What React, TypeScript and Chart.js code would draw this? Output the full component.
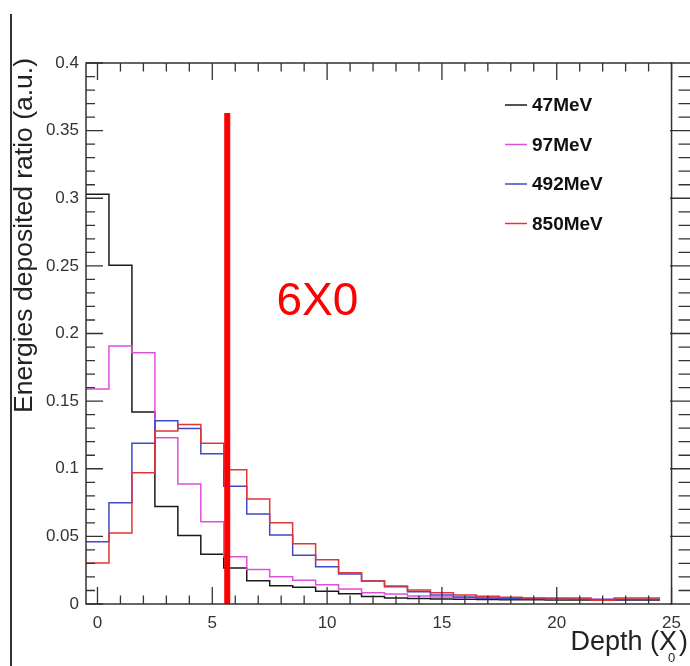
import { useEffect, useRef } from "react";
import { Chart, registerables } from "chart.js";

Chart.register(...registerables);

// ---- data ----
const binCenters = [0, 1, 2, 3, 4, 5, 6, 7, 8, 9, 10, 11, 12, 13, 14, 15, 16, 17, 18, 19, 20, 21, 22, 23, 24];
const seriesLabels = ["47MeV", "97MeV", "492MeV", "850MeV"];
const values47 = [0.303, 0.2505, 0.142, 0.072, 0.0507, 0.0367, 0.0266, 0.0172, 0.0135, 0.0123, 0.0094, 0.0076, 0.0055, 0.0045, 0.004, 0.0037, 0.0035, 0.0033, 0.0032, 0.0031, 0.003, 0.003, 0.003, 0.003, 0.003];
const values97 = [0.159, 0.1907, 0.1857, 0.123, 0.0887, 0.0608, 0.035, 0.0256, 0.0202, 0.0175, 0.0143, 0.011, 0.0084, 0.0074, 0.006, 0.0052, 0.0046, 0.0042, 0.004, 0.004, 0.0038, 0.0036, 0.0035, 0.0035, 0.0035];
const values492 = [0.046, 0.0749, 0.1188, 0.1355, 0.1298, 0.111, 0.087, 0.0665, 0.051, 0.0361, 0.0276, 0.0222, 0.017, 0.0128, 0.0091, 0.0067, 0.0052, 0.0045, 0.0042, 0.004, 0.0038, 0.0036, 0.0034, 0.0034, 0.0034];
const values850 = [0.0303, 0.0525, 0.097, 0.128, 0.1328, 0.1188, 0.0993, 0.0777, 0.06, 0.0446, 0.0327, 0.0231, 0.017, 0.0133, 0.0103, 0.0084, 0.0067, 0.0058, 0.005, 0.0045, 0.0045, 0.0045, 0.0028, 0.0045, 0.0045];
const seriesColors = ["#1a1a1a", "#dd4fdd", "#3f49c6", "#e03636"];

const xTickValues = [0, 5, 10, 15, 20, 25];
const yTickValues = [0, 0.05, 0.1, 0.15, 0.2, 0.25, 0.3, 0.35, 0.4];

const markerX = 5.65;
const markerTop = 0.363;
const annotationText = "6X0";
const annotationX = 9.58;
const annotationY = 0.2227;

const yTitle = "Energies deposited ratio (a.u.)";
const xTitleMain = "Depth (X";
const xTitleSub = "0";
const xTitleEnd = ")";

const FONT = "'Liberation Sans', Arial, Helvetica, sans-serif";

function histPoints(values: number[]) {
  const pts = binCenters.map((c, i) => ({ x: c - 0.5, y: values[i] }));
  const last = binCenters.length - 1;
  pts.push({ x: binCenters[last] + 0.5, y: values[last] });
  return pts;
}

const decorPlugin = {
  id: "decor",
  afterDraw(chart: any) {
    const ctx = chart.ctx;
    const { left, right, top, bottom } = chart.chartArea;
    const xs = chart.scales.x;
    const ys = chart.scales.y;
    ctx.save();
    // frame
    ctx.strokeStyle = "#333";
    ctx.lineWidth = 1.5;
    ctx.strokeRect(left, top, right - left, bottom - top);
    // x ticks (bottom/top)
    ctx.lineWidth = 1.3;
    for (let v = 0; v <= 25; v++) {
      const px = xs.getPixelForValue(v);
      const len = v % 5 === 0 ? 17 : 8.6;
      ctx.beginPath();
      ctx.moveTo(px, bottom);
      ctx.lineTo(px, bottom - len);
      ctx.moveTo(px, top);
      ctx.lineTo(px, top + len);
      ctx.stroke();
    }
    // y ticks (left / right)
    for (let k = 0; k <= 40; k++) {
      const py = ys.getPixelForValue(k * 0.01);
      const major = k % 5 === 0;
      ctx.beginPath();
      ctx.moveTo(left, py);
      ctx.lineTo(left + (major ? 17 : 9), py);
      ctx.moveTo(chart.width, py);
      ctx.lineTo(major ? 670 : 678.5, py);
      ctx.stroke();
    }
    // annotation text
    ctx.fillStyle = "#ff0000";
    ctx.font = `46px ${FONT}`;
    ctx.textAlign = "center";
    ctx.textBaseline = "middle";
    ctx.fillText(annotationText, xs.getPixelForValue(annotationX), ys.getPixelForValue(annotationY));
    // legend
    ctx.font = `bold 19px ${FONT}`;
    ctx.textAlign = "left";
    ctx.textBaseline = "middle";
    seriesLabels.forEach((lab, i) => {
      const y = 105 + i * 39.5;
      ctx.strokeStyle = seriesColors[i];
      ctx.lineWidth = 1.5;
      ctx.beginPath();
      ctx.moveTo(505, y);
      ctx.lineTo(527, y);
      ctx.stroke();
      ctx.fillStyle = "#111";
      ctx.fillText(lab, 532, y + 1);
    });
    // y title
    ctx.save();
    ctx.translate(32, 58);
    ctx.rotate(-Math.PI / 2);
    ctx.font = `26.5px ${FONT}`;
    ctx.fillStyle = "#222";
    ctx.textAlign = "right";
    ctx.textBaseline = "alphabetic";
    ctx.fillText(yTitle, 0, 0);
    ctx.restore();
    // x title
    ctx.fillStyle = "#222";
    ctx.textBaseline = "alphabetic";
    ctx.font = `27px ${FONT}`;
    ctx.textAlign = "right";
    ctx.fillText(xTitleMain, 677, 650);
    ctx.textAlign = "left";
    ctx.fillText(xTitleEnd, 679, 650);
    ctx.font = `13px ${FONT}`;
    ctx.fillText(xTitleSub, 668, 662);
    ctx.restore();
  },
};

export default function App() {
  const canvasRef = useRef<HTMLCanvasElement | null>(null);

  useEffect(() => {
    if (!canvasRef.current) return;
    const allValues = [values47, values97, values492, values850];
    const datasets: any[] = allValues.map((vals, i) => ({
      label: seriesLabels[i],
      data: histPoints(vals),
      borderColor: seriesColors[i],
      borderWidth: 1.5,
      pointRadius: 0,
      stepped: "before",
      fill: false,
      order: 4 - i,
    }));
    datasets.push({
      label: "marker",
      data: [
        { x: markerX, y: 0 },
        { x: markerX, y: markerTop },
      ],
      borderColor: "#ff0000",
      borderWidth: 6,
      pointRadius: 0,
      borderCapStyle: "butt",
      fill: false,
      order: 0,
    });

    const chart = new Chart(canvasRef.current, {
      type: "line",
      data: { datasets },
      options: {
        animation: false,
        responsive: true,
        maintainAspectRatio: false,
        layout: { padding: { top: 63, right: 14, left: 0, bottom: 0 } },
        plugins: { legend: { display: false }, tooltip: { enabled: false } },
        scales: {
          x: {
            type: "linear",
            min: -0.5,
            max: 25,
            afterBuildTicks: (scale: any) => {
              scale.ticks = xTickValues.map((v) => ({ value: v }));
            },
            afterFit: (scale: any) => {
              scale.height = 62;
            },
            grid: { display: false, drawTicks: false },
            border: { display: false },
            ticks: {
              autoSkip: false,
              maxRotation: 0,
              padding: 9,
              color: "#333",
              font: { size: 17, family: FONT },
              callback: (v: any) => String(v),
            },
          },
          y: {
            type: "linear",
            min: 0,
            max: 0.4,
            afterBuildTicks: (scale: any) => {
              scale.ticks = yTickValues.map((v) => ({ value: v }));
            },
            afterFit: (scale: any) => {
              scale.width = 86;
            },
            grid: { display: false, drawTicks: false },
            border: { display: false },
            ticks: {
              autoSkip: false,
              padding: 7,
              color: "#333",
              font: { size: 17, family: FONT },
              callback: (v: any) => String(Number(Number(v).toFixed(2))),
            },
          },
        },
      },
      plugins: [decorPlugin],
    });
    return () => chart.destroy();
  }, []);

  return (
    <div style={{ position: "fixed", left: 0, top: 0, width: 690, height: 666, background: "#fff" }}>
      <div style={{ position: "absolute", left: 10, top: 14, width: 1.5, height: 652, background: "#333" }} />
      <canvas ref={canvasRef} />
    </div>
  );
}
